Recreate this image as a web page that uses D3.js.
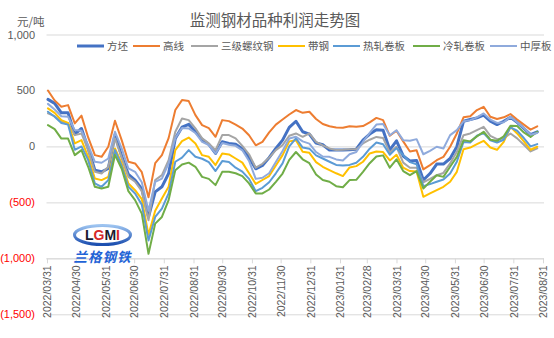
<!DOCTYPE html>
<html><head><meta charset="utf-8">
<script src="https://cdn.jsdelivr.net/npm/d3@7"></script>
<style>body{margin:0;background:#fff}svg{display:block}</style>
</head><body>
<svg id="c" width="554" height="338"></svg>
<script>
// ---- data ----
const seriesNames = ["方坯","高线","三级螺纹钢","带钢","热轧卷板","冷轧卷板","中厚板"];
const seriesColors = ["#4472C4","#ED7D31","#A5A5A5","#FFC000","#5B9BD5","#70AD47","#8FAADC"];
const startDate = "2022/04/01"; // weekly observations
const fangpi = [420,385,300,300,110,160,-18,-212,-227,-197,
  101,-85,-250,-301,-380,-630,-406,-361,-242,72,
  172,197,131,62,18,-63,41,27,20,-20,
  -100,-200,-170,-100,-18,56,170,225,131,110,
  30,15,-33,-33,-33,-30,-25,56,110,150,
  145,-30,50,-85,-130,-125,-300,-242,-158,-158,
  -108,-3,225,241,255,280,225,195,225,260,
  215,160,105,131];
const gaoxian = [500,410,354,369,206,275,80,-78,-93,-3,
  229,56,-137,-152,-230,-455,-150,-78,74,325,
  414,405,280,190,163,86,235,226,195,160,
  100,10,41,125,195,240,285,325,300,310,
  245,200,180,170,167,180,175,182,215,255,
  235,95,140,45,-45,-35,-205,-167,-123,-93,
  -3,116,260,270,325,354,265,245,260,289,
  240,195,150,180];
const luowen = [295,270,220,206,101,116,-33,-227,-242,-182,
  72,-100,-272,-316,-400,-660,-300,-257,-123,131,
  250,235,161,72,27,-33,101,101,72,5,
  -70,-190,-155,-100,-33,12,95,116,86,116,
  40,10,-18,-33,-30,-25,-25,27,60,85,
  75,-55,-3,-145,-190,-190,-320,-290,-257,-237,
  -152,-48,100,116,146,175,95,65,72,116,
  72,15,-45,-18];
const daigang = [340,300,235,211,27,56,-93,-286,-301,-272,
  -18,-150,-331,-391,-470,-790,-575,-465,-361,-33,
  47,79,27,-78,-93,-167,-63,-72,-108,-145,
  -240,-335,-300,-265,-170,-78,45,56,-48,-57,
  -140,-182,-212,-240,-265,-188,-176,-137,-63,-45,
  -50,-125,-75,-190,-220,-225,-450,-420,-391,-361,
  -316,-227,-25,-10,20,50,-10,-30,40,175,
  116,45,-30,-3];
const rezha = [310,265,210,195,-30,0,-123,-331,-361,-301,
  -33,-175,-360,-420,-520,-840,-630,-555,-420,-137,
  -100,-33,-93,-110,-140,-220,-131,-140,-190,-225,
  -290,-400,-370,-320,-240,-152,0,72,-10,-20,
  -80,-108,-137,-165,-170,-165,-146,-93,-20,35,
  20,-75,-15,-78,-140,-160,-355,-337,-316,-296,
  -242,-137,40,35,95,120,55,35,60,170,
  140,75,0,21];
const lengzha = [190,155,70,70,-78,-33,-182,-361,-376,-361,
  -75,-200,-400,-480,-600,-960,-690,-630,-480,-212,
  -161,-145,-182,-272,-290,-346,-227,-227,-240,-265,
  -330,-420,-420,-385,-316,-242,-120,-50,-115,-150,
  -250,-300,-316,-355,-365,-301,-298,-227,-150,-90,
  -80,-190,-115,-220,-257,-220,-376,-316,-257,-272,
  -182,-93,55,45,90,131,60,50,90,185,
  182,125,85,131];
const zhonghou = [380,330,270,265,146,140,12,-137,-146,-108,
  131,-18,-197,-227,-320,-575,-316,-287,-152,75,
  165,161,120,41,12,-63,30,15,5,-35,
  -130,-290,-280,-240,-140,-40,70,86,45,25,
  -50,-90,-93,-116,-125,-70,-50,40,120,195,
  200,100,145,56,50,65,-70,-39,-3,-18,
  101,146,225,235,259,295,240,210,215,265,
  215,165,105,120];
const seriesValues = [fangpi,gaoxian,luowen,daigang,rezha,lengzha,zhonghou];
const xTickLabels = ["2022/03/31","2022/04/30","2022/05/31","2022/06/30","2022/07/31","2022/08/31","2022/09/30","2022/10/31","2022/11/30","2022/12/31","2023/01/31","2023/02/28","2023/03/31","2023/04/30","2023/05/31","2023/06/30","2023/07/31","2023/08/31"];
const yTicks = [1000,500,0,-500,-1000,-1500];
const yTickLabels = ["1,000","500","0","(500)","(1,000)","(1,500)"];
const title = "监测钢材品种利润走势图";
const unitLabel = "元/吨";

// ---- chart ----
const parse = d3.timeParse("%Y/%m/%d");
const svg = d3.select("#c");
const FONT = "'Liberation Sans','Noto Sans CJK SC',sans-serif";
const CJK = "'Noto Sans CJK SC','Liberation Sans',sans-serif";
const left = 46.5, right = 544;
const x = d3.scaleTime().domain([parse(xTickLabels[0]), parse(xTickLabels[xTickLabels.length-1])]).range([47, 543]);
const y = d3.scaleLinear().domain([-1500, 1000]).range([314.3, 34.5]);
const t0 = parse(startDate);
const dates = fangpi.map((_, i) => d3.timeDay.offset(t0, 7 * i));

// gridlines
const grid = svg.append("g").attr("transform", `translate(${left},0)`)
  .call(d3.axisLeft(y).tickValues(yTicks).tickSize(-(right - left)).tickFormat(""));
grid.select(".domain").remove();
grid.selectAll("line").attr("stroke", "#D9D9D9").attr("stroke-width", 1);

// y labels
svg.append("g").selectAll("text").data(yTicks).join("text")
  .attr("x", 35).attr("y", d => y(d) + 4)
  .attr("text-anchor", "end").attr("font-family", FONT).attr("font-size", 11)
  .attr("fill", d => d < 0 ? "#FF0000" : "#595959")
  .text((d, i) => yTickLabels[i]);

// x axis at -1000
const xa = svg.append("g").attr("transform", `translate(0,${y(-1000)})`)
  .call(d3.axisBottom(x).tickValues(xTickLabels.map(parse)).tickSize(5).tickSizeOuter(0)
    .tickFormat((d, i) => xTickLabels[i]));
xa.select(".domain").attr("stroke", "#D9D9D9").attr("d", `M${left},0.5H${right}`);
xa.selectAll("line").attr("stroke", "#D9D9D9");
xa.selectAll("text").attr("transform", "rotate(-90)").attr("text-anchor", "end")
  .attr("x", -7).attr("y", 0).attr("dy", "0.35em")
  .attr("font-family", FONT).attr("font-size", 10.5).attr("fill", "#595959");

// logo watermark
const logo = svg.append("g");
const grad = svg.append("defs").append("linearGradient").attr("id", "lg").attr("x1", 0).attr("y1", 0).attr("x2", 0).attr("y2", 1);
grad.append("stop").attr("offset", 0).attr("stop-color", "#9CC3F0");
grad.append("stop").attr("offset", 1).attr("stop-color", "#1C4FB0");
logo.append("ellipse").attr("cx", 102.5).attr("cy", 235).attr("rx", 28).attr("ry", 9.5)
  .attr("fill", "#fff").attr("stroke", "url(#lg)").attr("stroke-width", 3);
const lt = logo.append("text").attr("x", 102.5).attr("y", 240).attr("text-anchor", "middle")
  .attr("font-family", FONT).attr("font-weight", "bold").attr("font-size", 14);
lt.append("tspan").attr("fill", "#1a1a2e").text("L");
lt.append("tspan").attr("fill", "#D62828").text("G");
lt.append("tspan").attr("fill", "#1a1a2e").text("M");
lt.append("tspan").attr("fill", "#D62828").text("I");
logo.append("text").attr("x", 102.5).attr("y", 262).attr("text-anchor", "middle")
  .attr("font-family", CJK).attr("font-weight", "bold").attr("font-style", "italic")
  .attr("font-size", 13.5).attr("fill", "#1F63D6").attr("letter-spacing", 1).text("兰格钢铁");

// lines
const line = d3.line().x((d, i) => x(dates[i])).y(d => y(d));
svg.append("g").selectAll("path").data(seriesValues).join("path")
  .attr("d", d => line(d)).attr("fill", "none")
  .attr("stroke", (d, i) => seriesColors[i])
  .attr("stroke-width", (d, i) => i === 0 ? 3 : 2)
  .attr("stroke-linejoin", "round").attr("stroke-linecap", "round");

// title & unit
svg.append("text").attr("x", 275).attr("y", 26).attr("text-anchor", "middle")
  .attr("font-family", CJK).attr("font-size", 15.5).attr("fill", "#595959").text(title);
svg.append("text").attr("x", 17).attr("y", 26).attr("font-family", CJK)
  .attr("font-size", 11.5).attr("fill", "#595959").text(unitLabel);

// legend (positions as in the reference)
const legendX = [77,133,191,278,333,413,490];
const lg = svg.append("g");
seriesNames.forEach((n, i) => {
  const lx = legendX[i];
  lg.append("line").attr("x1", lx).attr("x2", lx + 27).attr("y1", 46).attr("y2", 46)
    .attr("stroke", seriesColors[i]).attr("stroke-width", i === 0 ? 3 : 2);
  lg.append("text").attr("x", lx + 30).attr("y", 50).attr("font-family", CJK)
    .attr("font-size", 10.5).attr("fill", "#595959").text(n);
});
</script>
</body></html>
